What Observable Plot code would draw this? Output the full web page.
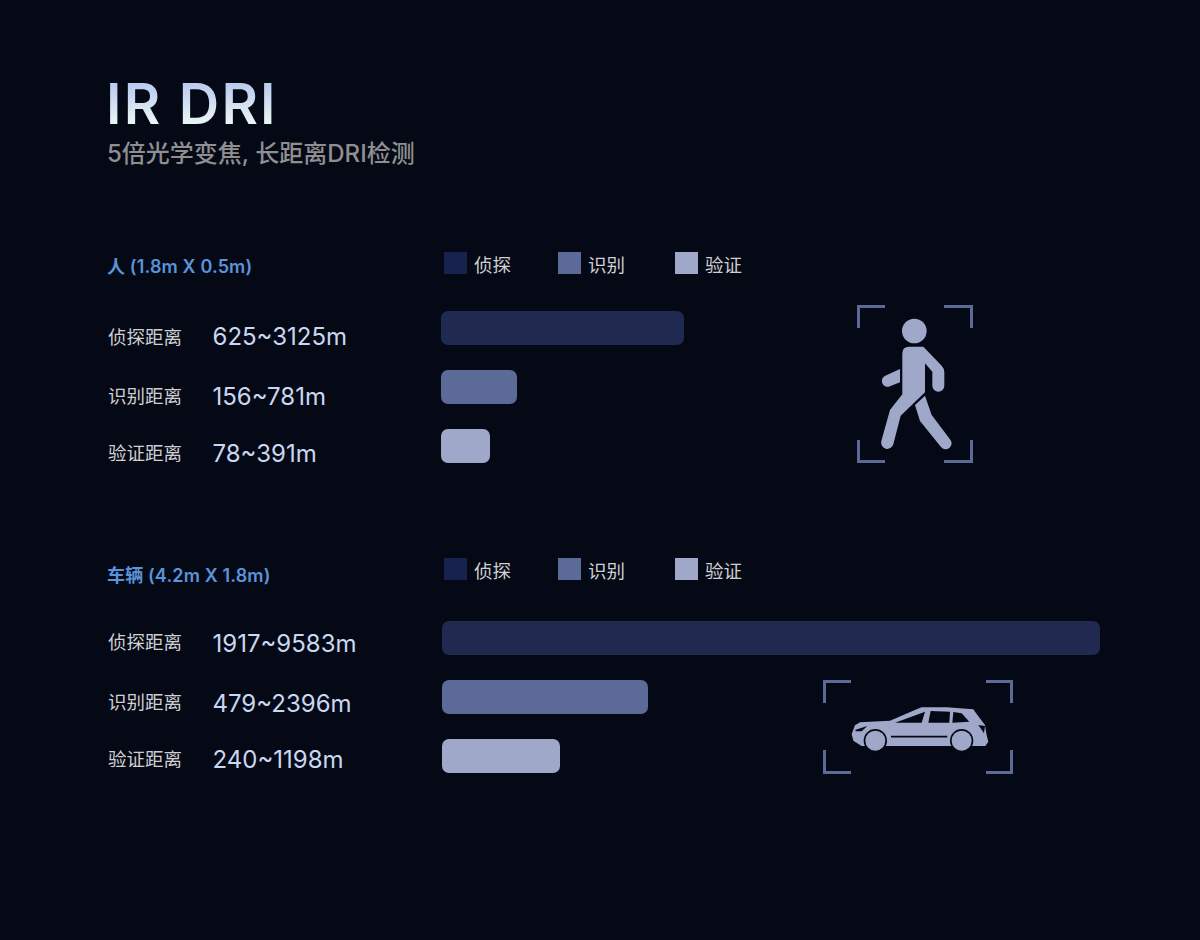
<!DOCTYPE html>
<html lang="zh">
<head>
<meta charset="utf-8">
<script src="https://cdn.jsdelivr.net/npm/d3@7"></script>
<script src="https://cdn.jsdelivr.net/npm/@observablehq/plot@0.6"></script>
<style>
html,body{margin:0;background:#050915;}
#page{position:relative;width:1200px;height:940px;overflow:hidden;background:#050915;font-family:Inter,"Noto Sans CJK SC",sans-serif;}
#page>*{position:absolute;}
#title{left:106px;top:68px;font-size:56px;line-height:72px;font-weight:600;letter-spacing:2.2px;
 background:linear-gradient(180deg,#bccdf0 25%,#e8f4f4 75%);-webkit-background-clip:text;background-clip:text;color:transparent;}
#subtitle{left:107px;top:137px;font-size:24px;line-height:34px;font-weight:500;color:#8f8f91;white-space:nowrap;}
.head{left:107px;font-size:18px;line-height:26px;font-weight:600;letter-spacing:.15px;color:#5b93da;white-space:nowrap;}
.swatch{width:23px;height:22px;}
.legend-label{font-size:18.5px;line-height:26px;color:#d0d0d4;white-space:nowrap;}
</style>
</head>
<body>
<div id="page">
  <div id="title">IR DRI</div>
  <div id="subtitle">5倍光学变焦, 长距离DRI检测</div>
</div>
<script>
const rowNames = ["侦探距离", "识别距离", "验证距离"];
const legendNames = ["侦探", "识别", "验证"];
const legendColors = ["#17224f", "#5c6a98", "#a0a8c9"];
const barColors = ["#20294f", "#5c6a98", "#a0a8c9"];

const personHeading = "人 (1.8m X 0.5m)";
const personLow = [625, 156, 78];
const personHigh = [3125, 781, 391];
const personLengths = [243, 76, 49];   // bar lengths (not proportional to the range)
const personLabelShift = [10, 10, 8];
const personValueShift = [9, 10, 8];

const vehicleHeading = "车辆 (4.2m X 1.8m)";
const vehicleLow = [1917, 479, 240];
const vehicleHigh = [9583, 2396, 1198];
const vehicleLengths = [658, 206, 118];
const vehicleLabelShift = [5, 6, 4];
const vehicleValueShift = [6, 7, 4];

const page = document.getElementById("page");

function addDiv(cls, text, left, top, extra) {
  const d = document.createElement("div");
  d.className = cls;
  if (text) d.textContent = text;
  if (left != null) d.style.left = left + "px";
  d.style.top = top + "px";
  if (extra) d.style.background = extra;
  page.appendChild(d);
}

function section(cfg) {
  addDiv("head", cfg.heading, null, cfg.headTop);
  [444, 558, 675].forEach((x, i) => {
    addDiv("swatch", "", x, cfg.legendTop, legendColors[i]);
    addDiv("legend-label", legendNames[i], x + 30, cfg.legendTop);
  });
  const rows = rowNames.map((name, i) => ({
    name, low: cfg.low[i], high: cfg.high[i],
    text: `${cfg.low[i]}~${cfg.high[i]}m`, color: barColors[i]
  }));
  const labelFont = {fontFamily: '"Noto Sans CJK SC",sans-serif', fontSize: 18.5, fill: "#d0d0d4"};
  const valueFont = {fontFamily: 'Inter,sans-serif', fontSize: 24, fill: "#c9d7f1"};
  const textMarks = rows.flatMap((r, i) => [
    Plot.text([r], {y: "name", text: "name", frameAnchor: "left", textAnchor: "start", dx: 107.5, dy: cfg.labelShift[i], ...labelFont}),
    Plot.text([r], {y: "name", text: "text", frameAnchor: "left", textAnchor: "start", dx: 212, dy: cfg.valueShift[i], ...valueFont})
  ]);
  // The drawn bar lengths do not follow the range linearly, so a piecewise transform
  // ties each range end to its measured length before the linear position scale.
  const knots = d3.sort(cfg.high.map((h, i) => [h, cfg.lengths[i]]), d => d[0]);
  const toLength = d3.scaleLinear([0, ...knots.map(d => d[0])], [0, ...knots.map(d => d[1])]);
  const maxLength = d3.max(cfg.lengths);
  const chart = Plot.plot({
    width: 1200, height: 190,
    margin: 0,
    style: {background: "transparent", overflow: "visible"},
    x: {transform: toLength, domain: [0, maxLength], range: [cfg.barStart, cfg.barStart + maxLength], axis: null},
    y: {domain: rowNames, range: [cfg.bandTop, cfg.bandTop + 152], paddingInner: 25 / 59, paddingOuter: 0, round: false, axis: null},
    marks: [
      Plot.barX(rows, {x1: () => 0, x2: "high", y: "name", fill: "color", rx: 7}),
      ...textMarks
    ]
  });
  chart.style.left = "0px";
  chart.style.top = cfg.top + "px";
  chart.style.position = "absolute";
  page.appendChild(chart);
}

section({
  heading: personHeading, headTop: 254, legendTop: 252,
  low: personLow, high: personHigh, lengths: personLengths,
  labelShift: personLabelShift, valueShift: personValueShift,
  barStart: 441, top: 290, bandTop: 21
});
section({
  heading: vehicleHeading, headTop: 563, legendTop: 558,
  low: vehicleLow, high: vehicleHigh, lengths: vehicleLengths,
  labelShift: vehicleLabelShift, valueShift: vehicleValueShift,
  barStart: 442, top: 600, bandTop: 21
});

// Decorative icons (not data)
const iconColor = "#a0a8c9", frameColor = "#5c6a98", bg = "#050915";
const icons = document.createElement("div");
icons.style.cssText = "left:0;top:0;width:1200px;height:940px;";
icons.innerHTML = `<svg width="1200" height="940" style="display:block">
 <g fill="none" stroke="${frameColor}" stroke-width="3">
  <path d="M858.5 328V306.5H885M944 306.5H971.5V328M858.5 440V461.5H885M944 461.5H971.5V440"/>
  <path d="M824.5 703V681.5H851M986 681.5H1011.5V703M824.5 750V772.5H851M986 772.5H1011.5V750"/>
 </g>
 <g transform="translate(840 295) scale(.3333)" fill="${iconColor}">
  <circle cx="223" cy="108" r="37"/>
  <path d="M187 175Q187 155 207 155H250L305 212Q313 220 313 232V272A18 18 0 0 1 277 272V230L255 205V292L182 362L160 448A18 18 0 0 1 124 438L150 345L187 298Z"/>
  <path d="M225 330L255 302L275 360L331 434A17 17 0 0 1 303 456L240 378Z"/>
  <path d="M180 222V262L150 274A15 15 0 0 1 136 242Z"/>
 </g>
 <g transform="translate(810 670) scale(.3333)">
  <path fill="${iconColor}" d="M125 192L135 166L150 157L240 152L320 118L335 112H410L490 118L500 132L525 165L530 195L535 215L526 228H155L130 212Z"/>
  <g fill="${bg}">
   <path d="M255 158L345 125L335 158Z"/>
   <path d="M362 123L420 125L418 158L355 158Z"/>
   <path d="M430 126L455 130L478 155L427 158Z"/>
   <path d="M135 180L172 168L155 184L138 184Z"/>
   <path d="M505 165L525 168L522 190Z"/>
  </g>
  <path d="M243 200H412" stroke="${bg}" stroke-width="5"/>
  <circle cx="196" cy="212" r="35" fill="${bg}"/>
  <circle cx="455" cy="212" r="35" fill="${bg}"/>
  <circle cx="196" cy="212" r="30" fill="${iconColor}"/>
  <circle cx="455" cy="212" r="30" fill="${iconColor}"/>
 </g>
</svg>`;
page.appendChild(icons);
</script>
</body>
</html>
